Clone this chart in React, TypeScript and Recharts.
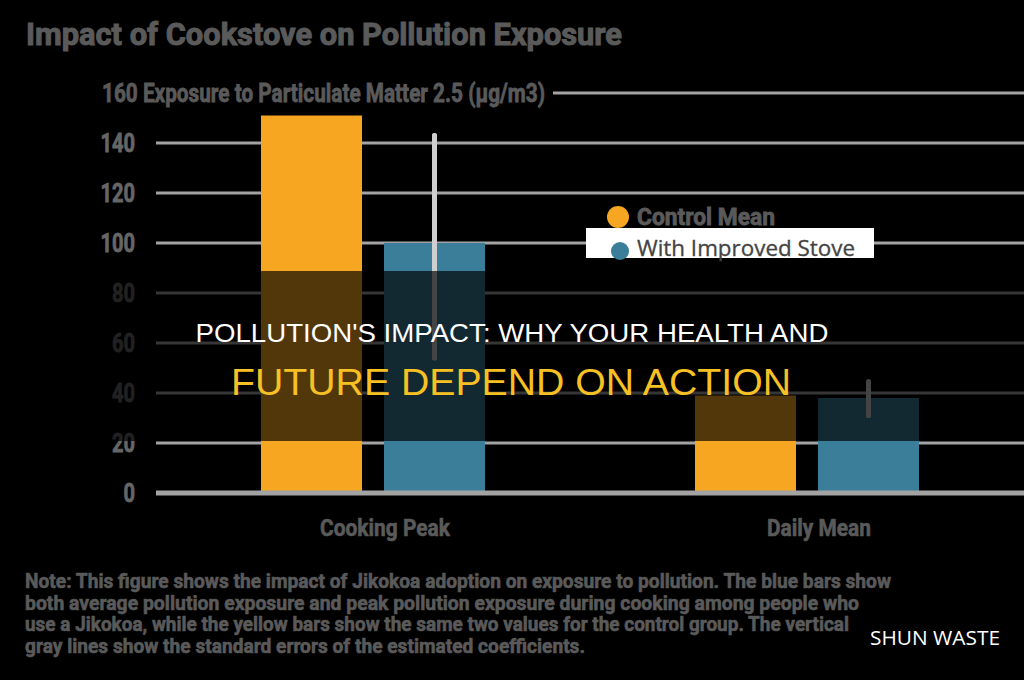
import { Bar, BarChart, CartesianGrid, ErrorBar, XAxis, YAxis } from "recharts";

const categories = ["Cooking Peak", "Daily Mean"];
const controlMean = [151, 39];
const improvedStove = [100, 38];
const improvedErrLow = [46, 7];
const improvedErrHigh = [43, 6.5];
const yTicks = [0, 20, 40, 60, 80, 100, 120, 140, 160];

const noteLines = [
  "Note: This figure shows the impact of Jikokoa adoption on exposure to pollution. The blue bars show",
  "both average pollution exposure and peak pollution exposure during cooking among people who",
  "use a Jikokoa, while the yellow bars show the same two values for the control group. The vertical",
  "gray lines show the standard errors of the estimated coefficients.",
];
const noteWidths = [866, 834, 824, 560];

const data = categories.map((c, i) => ({
  category: c,
  control: controlMean[i],
  improved: improvedStove[i],
  err: [improvedErrLow[i], improvedErrHigh[i]],
}));

const GRAY = "#5a5a5a";
const NARROW = "'Liberation Sans Narrow', Roboto, sans-serif";

function YTick(props: any) {
  const { y, payload } = props;
  if (payload.value === 160) return null;
  const s = String(payload.value);
  return (
    <text
      x={135}
      y={y}
      dy={9}
      textAnchor="end"
      fontSize={26}
      fontWeight={700}
      fill="#666"
      stroke="#666"
      strokeWidth={0.8}
      fontFamily={NARROW}
      textLength={s.length * 11.5}
      lengthAdjust="spacingAndGlyphs"
    >
      {s}
    </text>
  );
}

function XTick(props: any) {
  const { x, payload } = props;
  const w = payload.value === "Cooking Peak" ? 130 : 104;
  return (
    <text
      x={x + 12}
      y={536}
      textAnchor="middle"
      fontSize={24}
      fontWeight={700}
      fill={GRAY}
      stroke={GRAY}
      strokeWidth={0.6}
      fontFamily={NARROW}
      textLength={w}
      lengthAdjust="spacingAndGlyphs"
    >
      {payload.value}
    </text>
  );
}

export default function App() {
  return (
    <div
      style={{
        position: "absolute",
        left: 0,
        top: 0,
        width: 1024,
        height: 680,
        background: "#000",
        overflow: "hidden",
      }}
    >
      <BarChart
        width={1024}
        height={680}
        data={data}
        margin={{ top: 93, right: 0, bottom: 147, left: 0 }}
        barSize={101}
        barGap={22}
      >
        <CartesianGrid vertical={false} stroke="#a3a3a3" strokeWidth={3} />
        <XAxis
          dataKey="category"
          height={40}
          tick={<XTick />}
          tickLine={false}
          axisLine={{ stroke: "#a3a3a3", strokeWidth: 5 }}
        />
        <YAxis
          width={156}
          domain={[0, 160]}
          ticks={yTicks}
          tick={<YTick />}
          tickLine={false}
          axisLine={false}
        />
        <Bar dataKey="control" fill="#f6a620" isAnimationActive={false} />
        <Bar dataKey="improved" fill="#3a7e99" isAnimationActive={false}>
          <ErrorBar
            dataKey="err"
            direction="y"
            width={0}
            stroke="#cfcfcf"
            strokeWidth={5}
            strokeLinecap="round"
            isAnimationActive={false}
          />
        </Bar>
      </BarChart>

      <svg
        width={1024}
        height={680}
        style={{ position: "absolute", left: 0, top: 0, pointerEvents: "none" }}
      >
        {/* title and axis caption */}
        <text
          x={26}
          y={45}
          fontSize={31}
          fontWeight={700}
          fill={GRAY}
          stroke={GRAY}
          strokeWidth={1}
          fontFamily={NARROW}
          textLength={596}
          lengthAdjust="spacingAndGlyphs"
        >
          Impact of Cookstove on Pollution Exposure
        </text>
        <rect x={92} y={80} width={461} height={26} fill="#000" />
        <text
          x={102}
          y={102}
          fontSize={26}
          fontWeight={700}
          fill={GRAY}
          stroke={GRAY}
          strokeWidth={0.8}
          fontFamily={NARROW}
          textLength={443}
          lengthAdjust="spacingAndGlyphs"
        >
          160 Exposure to Particulate Matter 2.5 (µg/m3)
        </text>

        {/* legend */}
        <circle cx={618} cy={217} r={11} fill="#f6a620" />
        <text
          x={637}
          y={225}
          fontSize={23}
          fontWeight={700}
          fill={GRAY}
          stroke={GRAY}
          strokeWidth={0.8}
          fontFamily={NARROW}
          textLength={138}
          lengthAdjust="spacingAndGlyphs"
        >
          Control Mean
        </text>
        <rect x={586} y={228} width={288} height={30} fill="#fff" />
        <circle cx={620} cy={251} r={9} fill="#3a7e99" />
        <text
          x={637}
          y={256}
          fontSize={22}
          fill="#444"
          stroke="#444"
          strokeWidth={0.3}
          fontFamily="'Open Sans', sans-serif"
          textLength={218}
          lengthAdjust="spacingAndGlyphs"
        >
          With Improved Stove
        </text>

        {/* headline band */}
        <rect x={0} y={271} width={1024} height={170} fill="#000" opacity={0.67} />
        <text
          x={512}
          y={342}
          textAnchor="middle"
          fontSize={25}
          fill="#fff"
          fontFamily="'Liberation Sans', Arial, sans-serif"
          textLength={633}
          lengthAdjust="spacingAndGlyphs"
        >
          POLLUTION'S IMPACT: WHY YOUR HEALTH AND
        </text>
        <text
          x={511}
          y={395}
          textAnchor="middle"
          fontSize={36}
          fill="#f7c124"
          fontFamily="'Liberation Sans', Arial, sans-serif"
          textLength={560}
          lengthAdjust="spacingAndGlyphs"
        >
          FUTURE DEPEND ON ACTION
        </text>

        {/* note */}
        {noteLines.map((line, i) => (
          <text
            key={i}
            x={25}
            y={588 + i * 21.7}
            fontSize={20}
            fontWeight={700}
            fill={GRAY}
            stroke={GRAY}
            strokeWidth={0.6}
            fontFamily={NARROW}
            textLength={noteWidths[i]}
            lengthAdjust="spacingAndGlyphs"
          >
            {line}
          </text>
        ))}
        <text
          x={870}
          y={645}
          fontSize={20}
          fill="#fff"
          fontFamily="'Open Sans', sans-serif"
          textLength={130}
          lengthAdjust="spacingAndGlyphs"
        >
          SHUN WASTE
        </text>
      </svg>
    </div>
  );
}
